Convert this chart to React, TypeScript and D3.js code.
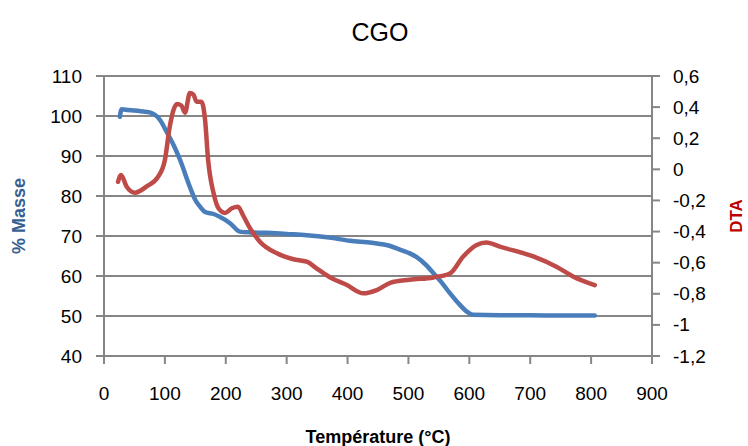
import React from "react";
import * as d3 from "d3";

const massTemps = [26, 29, 40, 60, 75, 92, 103, 115, 125, 141, 150, 158, 166, 180, 190, 207, 223, 240, 267, 300, 333, 370, 404, 440, 470, 486, 500, 513, 530, 541, 555, 568, 582, 596, 606, 650, 700, 750, 806];
const massValues = [99.8, 101.7, 101.5, 101.2, 100.9, 99, 96, 92.5, 89, 82.3, 79, 77.3, 76, 75.5, 74.8, 73.2, 71.1, 70.9, 70.8, 70.5, 70.2, 69.6, 68.8, 68.3, 67.5, 66.6, 65.8, 64.8, 62.6, 60.7, 58.3, 55.7, 53.2, 51.1, 50.3, 50.2, 50.2, 50.1, 50.1];

const dtaTemps = [23, 28, 37, 51, 70, 89, 100, 108, 114, 120, 127, 133, 141, 147, 152, 160, 166, 171, 180, 188, 199, 210, 220, 229, 240, 256, 284, 311, 333, 349, 371, 399, 426, 448, 470, 502, 541, 568, 590, 612, 628, 650, 705, 743, 771, 806];
const dtaValues = [-0.08, -0.036, -0.11, -0.15, -0.11, -0.047, 0.06, 0.274, 0.38, 0.42, 0.41, 0.364, 0.49, 0.48, 0.435, 0.435, 0.317, 0.06, -0.154, -0.25, -0.28, -0.25, -0.24, -0.3, -0.38, -0.465, -0.54, -0.578, -0.594, -0.636, -0.694, -0.744, -0.797, -0.776, -0.73, -0.71, -0.695, -0.67, -0.56, -0.486, -0.47, -0.497, -0.56, -0.626, -0.69, -0.744];

const xTicks = [0, 100, 200, 300, 400, 500, 600, 700, 800, 900];
const leftTicks = [40, 50, 60, 70, 80, 90, 100, 110];
const rightTicks = [0.6, 0.4, 0.2, 0, -0.2, -0.4, -0.6, -0.8, -1, -1.2];
const rightTickLabels = ["0,6", "0,4", "0,2", "0", "-0,2", "-0,4", "-0,6", "-0,8", "-1", "-1,2"];

const W = 748;
const H = 446;
const L = 104, R = 652, T = 76, B = 356;
const AXIS = "#868686";
const FONT = "'Liberation Sans', Arial, sans-serif";

export default function App() {
  const x = d3.scaleLinear().domain([0, 900]).range([L, R]);
  const yL = d3.scaleLinear().domain([40, 110]).range([B, T]);
  const yR = d3.scaleLinear().domain([-1.2, 0.6]).range([B, T]);

  const massLine = d3
    .line<number>()
    .x((_, i) => x(massTemps[i]))
    .y((d) => yL(d))
    .curve(d3.curveMonotoneX)(massValues) as string;

  const dtaLine = d3
    .line<number>()
    .x((_, i) => x(dtaTemps[i]))
    .y((d) => yR(d))
    .curve(d3.curveMonotoneX)(dtaValues) as string;

  return (
    <svg width={W} height={H} style={{ position: "absolute", left: 0, top: 0, background: "#fff" }} fontFamily={FONT}>
      <rect x={0} y={0} width={W} height={H} fill="#fff" />
      {leftTicks.filter((t) => t > 40).map((t) => (
        <line key={"g" + t} x1={L} x2={R} y1={yL(t)} y2={yL(t)} stroke={AXIS} strokeWidth={2} />
      ))}
      <line x1={L} x2={L} y1={T} y2={B} stroke={AXIS} strokeWidth={2} />
      {leftTicks.map((t) => (
        <g key={"l" + t}>
          <line x1={L - 8} x2={L} y1={yL(t)} y2={yL(t)} stroke={AXIS} strokeWidth={2} />
          <text x={82} y={yL(t)} textAnchor="end" dominantBaseline="central" fontSize={19} fill="#000">
            {t}
          </text>
        </g>
      ))}
      <line x1={R} x2={R} y1={T} y2={B} stroke={AXIS} strokeWidth={2} />
      {rightTicks.map((t, i) => (
        <g key={"r" + i}>
          <line x1={R} x2={R + 8} y1={yR(t)} y2={yR(t)} stroke={AXIS} strokeWidth={2} />
          <text x={673} y={yR(t)} textAnchor="start" dominantBaseline="central" fontSize={19} fill="#000">
            {rightTickLabels[i]}
          </text>
        </g>
      ))}
      <line x1={L - 8} x2={R + 8} y1={B} y2={B} stroke={AXIS} strokeWidth={2} />
      {xTicks.map((t) => (
        <g key={"x" + t}>
          <line x1={x(t)} x2={x(t)} y1={B} y2={B + 8} stroke={AXIS} strokeWidth={2} />
          <text x={x(t)} y={393} textAnchor="middle" dominantBaseline="central" fontSize={19} fill="#000">
            {t}
          </text>
        </g>
      ))}
      <path d={massLine} fill="none" stroke="#4a7ebb" strokeWidth={4.5} strokeLinejoin="round" strokeLinecap="round" />
      <path d={dtaLine} fill="none" stroke="#be4b48" strokeWidth={4.5} strokeLinejoin="round" strokeLinecap="round" />
      <text x={380} y={32} textAnchor="middle" dominantBaseline="central" fontSize={25} fill="#000">
        CGO
      </text>
      <text
        transform={`translate(19,216) rotate(-90)`}
        textAnchor="middle"
        dominantBaseline="central"
        fontSize={18}
        fontWeight="bold"
        fill="#376092"
      >
        % Masse
      </text>
      <text
        transform={`translate(736,216) rotate(-90)`}
        textAnchor="middle"
        dominantBaseline="central"
        fontSize={17}
        fontWeight="bold"
        fill="#c00000"
      >
        DTA
      </text>
      <text x={378} y={437} textAnchor="middle" dominantBaseline="central" fontSize={18} fontWeight="bold" fill="#000">
        Température (°C)
      </text>
    </svg>
  );
}
